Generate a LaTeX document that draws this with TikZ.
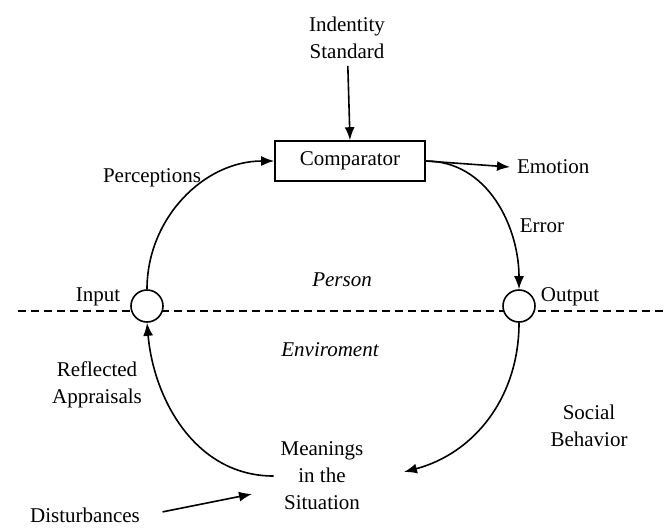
\documentclass[tikz,border=0pt]{standalone}
\usepackage{fontspec}
\setmainfont{Liberation Serif}
\usepackage{tikz}
\usetikzlibrary{arrows.meta, positioning}
\tikzset{
    flow/.style={-{Latex[length=6.5pt, width=5pt]}, line width=0.8pt},
    junction/.style={circle, draw, fill=white, line width=0.8pt, minimum size=16pt, inner sep=0pt},
    compbox/.style={draw, line width=0.8pt, minimum width=75pt, minimum height=20pt},
    boundary/.style={dash pattern=on 4pt off 2.5pt, line width=0.8pt},
    every node/.style={align=center, font=\fontsize{10.5}{13.5}\selectfont}
}

\begin{document}
\begin{tikzpicture}[x=0.5pt, y=-0.5pt]
    \useasboundingbox (0,0) rectangle (668,527);
    % Person / environment boundary
    \draw[boundary] (18,311) -- (668,311);
    % Comparator and its reference
    \node (std) at (347,38) {Indentity\\Standard};
    \node[compbox] (comp) at (350,161) {Comparator};
    \node[anchor=west] (emo) at (510,167) {Emotion};
    % Input and output
    \node[junction] (in) at (147,306) {};
    \node[junction] (out) at (519,306) {};
    \node (inlab) at (98,297) {Input};
    \node (outlab) at (570,297) {Output};
    % Sides
    \node (person) at (342,280) {\itshape Person};
    \node (env) at (330,350) {\itshape Enviroment};
    % Situation
    \node (mean) at (322,476) {Meanings\\in the\\Situation};
    \node (dist) at (85,515) {Disturbances};
    \coordinate (sbtip) at (404,472);
    \coordinate (disttip) at (252,494);
    % Loop labels
    \node (perc) at (152,178) {Perceptions};
    \node (err) at (542,226) {Error};
    \node (social) at (589,426) {Social\\Behavior};
    \node (refl) at (97,385) {Reflected\\Appraisals};
    % Loop
    \draw[flow] (std) -- (comp.north);
    \draw[flow] (comp.east) -- (emo.west);
    \draw[flow] (in.north) to[out=90, in=180] (comp.west);
    \draw[flow] (comp.east) to[out=0, in=90] (out.north);
    \draw[flow] (out.south) to[out=-90, in=15] (sbtip);
    \draw[flow] (mean.west) to[out=180, in=-85] (in.south);
    \draw[flow, shorten <=8pt] (dist.east) -- (disttip);
\end{tikzpicture}
\end{document}
